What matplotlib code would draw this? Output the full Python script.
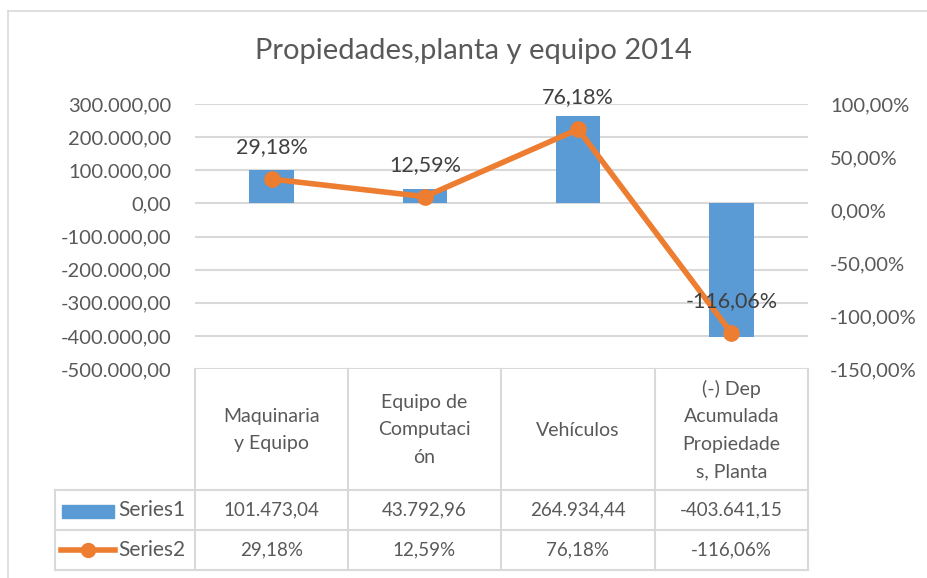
import matplotlib.pyplot as plt
import matplotlib as mpl
import numpy as np
from matplotlib.lines import Line2D
from matplotlib.patches import Rectangle

plt.rcParams['font.family'] = ['Lato', 'DejaVu Sans']

categories = ['Maquinaria\ny Equipo', 'Equipo de\nComputaci\nón', 'Vehículos',
              '(-) Dep\nAcumulada\nPropiedade\ns, Planta']
series1 = [101473.04, 43792.96, 264934.44, -403641.15]
series2 = [29.18, 12.59, 76.18, -116.06]
series1_txt = ['101.473,04', '43.792,96', '264.934,44', '-403.641,15']
series2_txt = ['29,18%', '12,59%', '76,18%', '-116,06%']
left_ticks = [300000, 200000, 100000, 0, -100000, -200000, -300000, -400000, -500000]
right_ticks = [100, 50, 0, -50, -100, -150]

W, H = 928, 578
blue = '#5b9bd5'
orange = '#ed7d31'
grid = '#d9d9d9'
txt = '#595959'
dark = '#404040'


def fx(x):
    return x / W


def fy(y):
    return 1 - y / H


def fmt_num(v):
    s = '{:,.2f}'.format(abs(v)).replace(',', 'X').replace('.', ',').replace('X', '.')
    return ('-' if v < 0 else '') + s


fig = plt.figure(figsize=(W / 100, H / 100), dpi=100)

# chart border
fig.add_artist(Line2D([fx(8), 1], [fy(11), fy(11)], color=grid, lw=1.2, transform=fig.transFigure))
fig.add_artist(Line2D([fx(8), fx(8)], [fy(11), 0], color=grid, lw=1.2, transform=fig.transFigure))

x0, x1, ytop, ybot = 195, 808, 104, 369
ax = fig.add_axes([fx(x0), fy(ybot), (x1 - x0) / W, (ybot - ytop) / H])
ax2 = ax.twinx()

x = np.arange(len(categories))
ax.bar(x, series1, width=0.29, color=blue, zorder=2)
ax.set_xlim(-0.5, len(categories) - 0.5)
ax.set_ylim(-500000, 300000)
ax.set_yticks(left_ticks)
ax.set_yticklabels([fmt_num(v) for v in left_ticks])
for t in left_ticks:
    ax.axhline(t, color=grid, lw=1.5, zorder=0)
ax.set_xticks([])

ax2.plot(x, series2, color=orange, lw=4, marker='o', ms=11, zorder=3)
ax2.set_ylim(-150, 100)
ax2.set_yticks(right_ticks)
ax2.set_yticklabels(['{:.2f}%'.format(v).replace('.', ',') for v in right_ticks])
for xi, v, s in zip(x, series2, series2_txt):
    ax2.annotate(s, (xi, v), xytext=(0, 23), textcoords='offset points',
                 ha='center', va='center', fontsize=15.5, color=dark)

for a in (ax, ax2):
    for sp in a.spines.values():
        sp.set_visible(False)
    a.tick_params(length=0, labelsize=14.5, colors=txt)
ax.tick_params(axis='y', pad=17)
ax2.tick_params(axis='y', pad=16)
ax.set_facecolor('none')

fig.text(fx(473), fy(51), 'Propiedades,planta y equipo 2014', ha='center', va='center',
         fontsize=21, color=txt)

# data table
cols = [195, 348, 501, 655, 808]
rows = [369, 490, 530, 570]
lk = dict(color=grid, lw=1.5, transform=fig.transFigure)
for cx in cols:
    fig.add_artist(Line2D([fx(cx), fx(cx)], [fy(369), fy(570)], **lk))
fig.add_artist(Line2D([fx(55), fx(55)], [fy(490), fy(570)], **lk))
for ry in rows[1:]:
    fig.add_artist(Line2D([fx(55), fx(808)], [fy(ry), fy(ry)], **lk))

for i, c in enumerate(categories):
    cx = (cols[i] + cols[i + 1]) / 2
    fig.text(fx(cx), fy(430), c, ha='center', va='center', fontsize=14, color=txt,
             linespacing=1.75)
    fig.text(fx(cx), fy(510), series1_txt[i], ha='center', va='center', fontsize=13.5, color=txt)
    fig.text(fx(cx), fy(550), series2_txt[i], ha='center', va='center', fontsize=13.5, color=txt)

fig.add_artist(Rectangle((fx(62), fy(518)), fx(52), 13 / H, color=blue, transform=fig.transFigure))
fig.add_artist(Line2D([fx(61), fx(115)], [fy(550), fy(550)], color=orange, lw=4,
                      transform=fig.transFigure))
fig.add_artist(Line2D([fx(88)], [fy(550)], color=orange, marker='o', ms=10,
                      transform=fig.transFigure))
fig.text(fx(118), fy(510), 'Series1', ha='left', va='center', fontsize=15, color=txt)
fig.text(fx(118), fy(550), 'Series2', ha='left', va='center', fontsize=15, color=txt)

fig.savefig('out.png', dpi=100)
